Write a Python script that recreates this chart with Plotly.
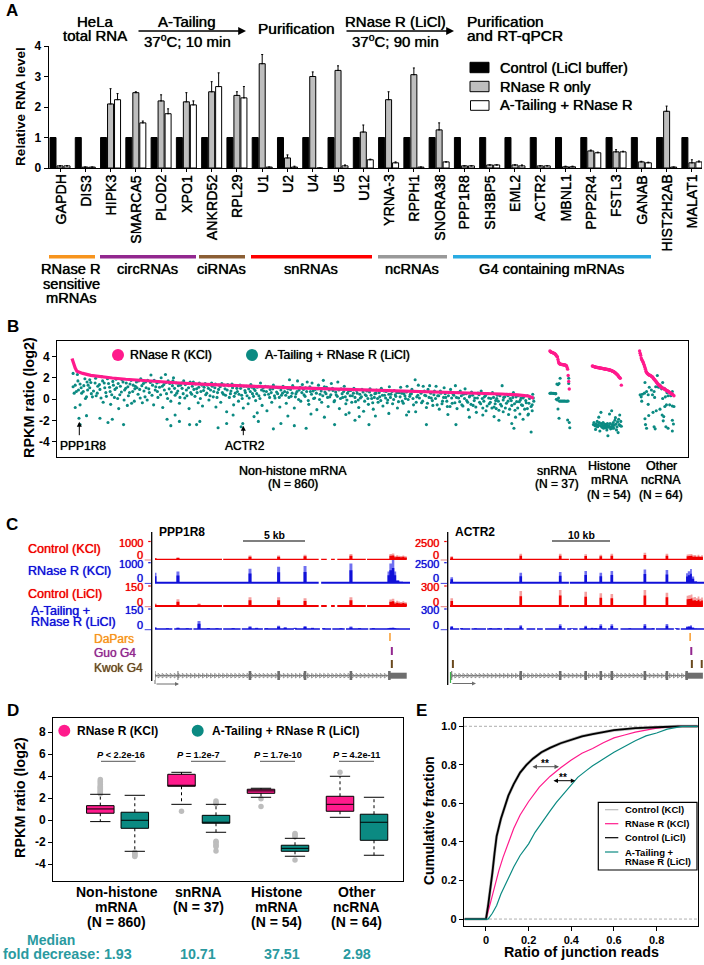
import plotly.graph_objects as go

W, H = 704, 965
FONT = "Liberation Sans"
PINK = "#FF1A8C"
TEAL = "#0B8A82"
TEALTXT = "#2A9AA0"
RED = "#F00000"
BLUE = "#1010D8"

# ---------- Panel A data ----------
genes = ["GAPDH","DIS3","HIPK3","SMARCA5","PLOD2","XPO1","ANKRD52","RPL29","U1","U2","U4","U5","U12","YRNA-3",
         "RPPH1","SNORA38","PPP1R8","SH3BP5","EML2","ACTR2","MBNL1","PPP2R4","FSTL3","GANAB","HIST2H2AB","MALAT1"]
control = [1]*26
rnase_only = [.07,.03,2.1,2.47,2.2,2.17,2.5,2.38,3.42,.33,3.0,3.2,1.18,2.24,3.06,1.25,.07,.1,.1,.07,.04,.56,.53,.2,1.86,.17]
rnase_err  = [0,0,.5,.03,.2,.3,.33,.12,.3,.1,.15,.15,.23,.26,.22,.23,0,0,0,0,.02,.03,.07,.02,.17,.1]
atail      = [.07,.03,2.24,1.48,1.78,2.07,2.67,2.3,.03,.03,0,.07,.27,.17,.03,.2,.07,.1,.07,.07,.04,.5,.53,.17,.03,.2]
atail_err  = [0,0,.2,.06,.16,.13,.45,.37,0,.03,0,.03,.02,.03,0,0,0,0,.03,0,.02,.02,.02,.02,0,.03]
group_names = ["circRNAs","ciRNAs","snRNAs","ncRNAs","G4 containing mRNAs"]

# ---------- Panel B data (rank along the axis, log2 ratio) ----------
nonhistone_pink_rank = [0,3,6,9,13,20,35,50,75,100,150,200,250,300,350,400,450,500,550,600,650,700,750,800,830,850,860]
nonhistone_pink_val  = [3.8,3.3,2.9,2.6,2.5,2.4,2.22,2.1,1.97,1.85,1.66,1.5,1.37,1.25,1.15,1.07,.99,.92,.85,.78,.7,.62,.55,.47,.38,.28,.08]
nonhistone_teal = [
(2,2.4),(10,2.3),(2,1.15),(6,1.3),(15,1.4),(24,1.9),(30,1.3),(33,1.8),(43,1.5),(55,2.1),(12,.85),(18,.55),(27,.2),(36,.5),(6,-.8),(15,-.55),(21,.7),(28,1.6),(38,.2),(8,.7),(33,1.05),(25,.05),
(45,.3),(48,1.2),(52,.9),(58,-.3),(60,1.5),(63,.6),(66,1.9),(70,1.1),(72,-.5),(74,.4),(77,1.3),(80,.9),(82,1.85),(85,.05),(87,-.9),(90,1.2),(92,.65),(95,1.6),(97,-.1),(100,1.0),(103,-.6),(105,.3),(108,1.4),(110,1.75),(113,.7),(116,-.2),
(118,1.2),(120,1.6),(123,.45),(126,.9),(128,1.9),(131,-.35),(133,1.45),(136,.2),(138,1.05),(141,1.75),(144,.6),(147,2.25),(150,1.3),(152,-.55),(155,.85),(158,1.5),(160,.15),(163,1.1),(166,2.0),(169,-.8),(171,1.35),(174,2.3),(176,.5),(179,1.7),
(181,.95),(184,-.2),(187,1.25),(189,2.0),(192,.35),(194,1.5),(197,.75),(200,-.4),(202,1.3),(205,1.0),(208,1.7),(210,.1),(213,.85),(216,1.45),(218,-.9),(221,.6),(224,1.2),(226,1.6),(229,.25),(232,.95),(235,-.35),(237,1.5),(240,.7),(243,-.65),(246,1.1),(249,.4),
(252,1.3),(255,-.1),(258,.85),(260,1.5),(263,.2),(266,1.05),(268,-.75),(271,.6),(274,1.3),(277,-.3),(279,1.45),(282,.45),(285,.95),(288,-1.2),(290,1.35),(293,.15),(296,.75),(298,1.4),(301,-.55),(304,.55),(307,1.0),(310,-.2),(313,1.3),(316,.35),
(319,-.85),(322,.8),(325,1.2),(328,-.45),(330,.1),(333,1.35),(336,.5),(339,.95),(342,-.15),(345,1.1),(348,.3),(351,1.5),(354,-.6),(357,.75),(360,1.2),(363,-1.1),(366,.45),(369,.9),(372,-.3),(375,1.3),(378,.1),(381,.65),(384,1.05),(387,-.75),(390,.35),(393,1.2),
(396,.7),(399,-.4),(402,.95),(405,1.8),(408,.25),(411,1.25),(414,-.85),(417,.5),(420,1.7),(423,.85),(426,-.2),(429,1.35),(432,.4),(435,1.05),(438,1.6),(441,-.5),(444,.7),(447,1.5),(450,.05),(453,.9),(456,-1.0),(459,1.3),(462,.45),(465,-.3),
(468,1.75),(471,.65),(474,1.1),(477,-.7),(480,.2),(483,1.45),(486,.8),(489,-.15),(492,.4),(495,1.6),(498,-.9),(501,.95),(504,.15),(507,1.2),(510,-.45),(513,.55),(516,-1.3),(519,.8),(522,.3),(525,1.0),(528,-.25),(531,.55),(534,-.8),
(537,.1),(540,.9),(543,-1.15),(546,.4),(549,.75),(552,-.5),(555,.95),(558,.05),(561,-.95),(564,.5),(567,.85),(570,-.3),(573,.2),(576,1.0),(579,-.65),(582,.35),(585,.7),(588,-.1),(591,1.15),(594,.45),(597,-.45),(600,.8),
(603,.25),(606,-.85),(609,.6),(612,1.1),(615,-.2),(618,.5),(621,.05),(624,1.2),(627,-1.2),(630,.45),(633,.9),(636,-.55),(639,1.8),(642,.2),(645,1.3),(648,.7),(651,-.35),(654,1.2),(657,.35),(660,-.8),(663,.9),(666,1.25),(669,.1),(672,-.6),
(675,.75),(678,1.2),(681,.3),(684,-.95),(687,.55),(690,-.2),(693,1.05),(696,.15),(699,-.7),(702,.6),(705,.9),(708,-.4),(711,.35),(714,1.25),(717,-.9),(720,.1),(723,.75),(726,-.55),(729,.45),(732,.95),(735,-.15),(738,-1.0),
(741,.3),(744,.65),(747,-.6),(750,.1),(753,-1.25),(756,.55),(759,-.3),(762,.75),(765,-.85),(768,.2),(771,-1.1),(774,.5),(777,-.45),(780,.05),(783,.6),(786,-.75),(789,-.15),(792,.35),(795,-1.05),(798,-.5),(801,1.25),(804,.15),(807,-.85),(810,.45),
(813,-1.45),(816,.05),(819,-.6),(822,.6),(825,-1.05),(828,-.25),(831,.3),(834,-1.4),(837,-.55),(840,.1),(843,-.95),(846,-.35),(849,-1.5),(852,.05),(855,-.7),(858,.45),(860,-.2),(857,-1.1),(848,.3),(835,-.1),(826,-1.7),(812,-.2),(803,-1.2),(790,-.9),
(13,-1.8),(15,-2.4),(27,-1.56),(52,-1.8),(67,-2.2),(75,-1.9),(96,-2.4),(177,-1.9),(184,-2.5),(192,-1.5),(200,-2.1),(219,-2.4),(232,-2.4),(238,-2.1),(272,-2.7),(288,-2.3),(318,-2.3),(315,-2.6),(339,-1.65),(347,-2.1),(375,-2.8),(389,-2.3),(414,-2.5),(436,-2.75),(489,-2.4),(527,-2.0),(535,-1.65),(553,-2.4),(623,-1.5),(660,-2.4),(715,-2.4),(786,-1.65),(823,-2.75),(855,-3.1),(819,-2.3),
(300,-1.5),(345,-1.3),(402,-1.6),(445,-1.4),(470,-1.7),(510,-1.45),(565,-1.6),(590,-1.35),(640,-1.2),(700,-1.45),(740,-1.7),(765,-1.5),(795,-2.0),(840,-1.9),(850,-1.4),
(4,.55),(11,1.7),(17,1.05),(22,1.25),(29,.85),(35,1.55),(40,.75),(44,1.95),(47,.55),(51,1.35),(54,.1),(57,1.7),(61,1.05),(64,.25),(68,1.45),(71,.7),(76,1.65),(79,.15),(83,1.05),(86,1.45),(89,.4),(93,1.8),(98,.85),(101,1.5),(104,1.15),(107,.6),(111,-.4),(114,1.3),(117,.95),(121,1.05),(124,1.7),(127,.1),(130,1.25),(134,.75),(137,1.6),(140,-.1),(143,.95),(146,1.55),(149,.35),(153,1.75),(156,1.15),(159,.7),(162,1.6),(165,.4),(168,1.2),(172,.85),(175,1.55),(178,.05),(182,1.45),(185,.65),(188,1.7),(191,1.0),(195,.55),(198,1.25),(201,.15),(204,1.5),(207,.5),(211,1.35),(214,.3),(217,1.05),(220,1.6),(223,.45),(227,.9),(230,1.4),(233,.6),(236,1.1),(239,.05),(242,1.3),(245,.8),(248,1.45),(251,.55),(254,1.0),(257,.3),(261,1.2),(264,.7),(267,1.4),(270,.15),(273,.9),(276,1.15),(280,.6),(283,1.3),(286,.35),(289,.85),(292,1.25),(295,.5),(299,1.05),(302,.25),(305,1.25),(308,.7),(311,.45),(314,1.0),(317,.05),(320,1.2),(323,.6),(326,.3),(329,.95),(332,.7),(335,1.1),(338,.25),(341,.8),(344,.5),(347,1.2),(350,.05),(353,.85),(356,1.05),(359,.4),(362,.7),(365,1.15),(368,.15),(371,.6),(374,.95),(377,.3),(380,1.1),(383,.5),(386,.15),(389,.85),(392,.55),(395,1.05),(398,.35),(401,.6),(404,.15),(407,.9),(410,.55),(413,1.05),(416,.2),(419,.7),(422,-.05),(425,1.1),(428,.6),(431,.9),(434,.25),(437,.7),(440,-.15),(443,1.15),(446,.45),(449,.75),(452,.1),(455,.55),(458,.95),(461,-.05),(464,.75),(467,.3),(470,1.15),(473,.5),(476,.15),(479,.85),(482,.4),(485,1.0),(488,-.25),(491,.65),(494,.25),(497,.85),(500,.05),(503,.5),(506,.7),(509,.2),(512,-.1),(515,.75),(518,.3),(521,-.3),(524,.55),(527,.15),(530,.8),(533,-.1),(536,.45),(539,.2),(542,.65),(545,-.2),(548,.3),(551,.05),(554,.65),(557,.35),(560,-.35),(563,.15),(566,.55),(569,.05),(572,.6),(575,-.15),(578,.35),(581,.75),(584,.1),(587,-.35),(590,.45),(593,.15),(596,.7),(599,-.05),(602,.4),(605,.6),(608,-.25),(611,.2),(614,.55),(617,-.4),(620,.3),(623,.65),(626,-.05),(629,.25),(632,.5),(635,.05),(638,.7),(641,-.3),(644,.35),(647,.1),(650,.55),(653,-.2),(656,.75),(659,.3),(662,-.4),(665,.15),(668,.55),(671,-.15),(674,.4),(677,.05),(680,-.55),(683,.3),(686,.75),(689,-.45),(692,.15),(695,.5),(698,-.2),(701,.3),(704,-.7),(707,.1),(710,.45),(713,-.35),(716,.15),(719,.6),(722,-.25),(725,.3),(728,-.65),(731,.05),(734,.5),(737,-.3),(740,.2),(743,-.5),(746,.35),(749,-.15),(752,-.75),(755,.1),(758,.4),(761,-.45),(764,.05),(767,-.2),(770,.3),(773,-.65),(776,.1),(779,-.3),(782,-.85),(785,.15),(788,-.45),(791,.05),(794,-.2),(797,.3),(800,-.65),(803,-.1),(806,.2),(809,-.4),(812,.3),(815,-.95),(818,-.15),(821,.15),(824,-.45),(827,.2),(830,-.85),(833,-.25),(836,.1),(839,-.6),(842,.25),(845,-.15),(848,-.9),(851,-.4),(854,.15),(857,-.55),(859,.1)]
snrna_pink_rank = list(range(890, 927))
snrna_pink_val = [4.5,4.45,4.4,4.38,4.37,4.35,4.33,4.3,4.28,4.25,4.2,4.15,4.05,4.0,3.95,3.7,3.5,3.35,3.3,3.28,3.26,3.25,3.24,3.23,3.22,3.21,3.2,3.2,3.19,3.18,3.15,3.1,2.95,2.8,2.2,1.65,.94]
snrna_teal = [(890,.53),(892,.55),(894,.54),(896,.53),(898,.52),(900,.5),(902,-.03),(904,-.1),(903,1.4),(905,1.35),(907,1.45),(909,1.94),(905,-.94),(907,-1.8),(908,-.2),(910,-.19),(912,-.2),(914,-.19),(916,-.2),(918,-.19),(920,-.21),(922,-.2),(924,-.19),(925,1.94),(925,1.45),(923,-1.97),(926,-2.2),(927,-2.69),(906,.1),(901,.5),(899,.52)]
histone_pink_rank = [969,970,971,972,973,974,975,976,977,978,979,980,981,982,983,984,985,986,987,988,989,990,991,992,993,994,995,996,997,998,999,1000,1001,1002,1003,1004,1005,1006,1007,1008,1009,1010,1011,1012,1013,1014,1015,1016,1017,1018,1019,1020,1021,1023]
histone_pink_val = [3.1,3.08,3.06,3.04,3.02,3.0,2.99,2.98,2.97,2.96,2.95,2.94,2.93,2.92,2.91,2.9,2.89,2.88,2.87,2.86,2.85,2.84,2.83,2.82,2.81,2.8,2.79,2.78,2.77,2.76,2.75,2.74,2.72,2.7,2.69,2.67,2.65,2.63,2.6,2.58,2.55,2.52,2.48,2.44,2.4,2.35,2.3,2.25,2.2,2.12,2.05,2.0,1.95,1.3]
histone_teal = [(971,-2.4),(972,-2.2),(974,-2.5),(975,-2.85),(976,-2.35),(978,-2.1),(979,-2.6),(980,-2.4),(981,-1.7),(982,-2.2),(983,-3.0),(984,-2.5),(985,-1.25),(986,-2.3),(987,-2.65),(988,-2.45),(989,-2.2),(990,-2.75),(991,-2.55),(992,-2.35),(993,-2.6),(994,-2.4),(995,-2.7),(996,-2.5),(997,-2.3),(998,-3.45),(999,-2.65),(1000,-2.5),(1001,-1.4),(1002,-2.3),(1003,-2.8),(1004,-2.6),(1005,-1.1),(1006,-2.4),(1007,-2.55),(1008,-2.2),(1009,-2.75),(1010,-2.45),(1011,-2.0),(1012,-1.75),(1013,-2.35),(1014,-2.9),(1015,-2.6),(1016,-2.15),(1017,-3.15),(1018,-1.9),(1019,-2.4),(1020,-1.5),(1021,-2.5),(1022,-2.1),(1023,-2.55),(977,-2.55),(996,-2.9),(1006,-2.75)]
ncrna_pink_rank = [1057,1058,1059,1060,1061,1062,1063,1064,1065,1066,1067,1068,1069,1070,1071,1072,1073,1074,1075,1076,1077,1078,1079,1080,1081,1082,1083,1084,1085,1086,1087,1088,1089,1090,1091,1092,1093,1094,1095,1096,1097,1098,1099,1100,1101,1102,1103,1104,1105,1106,1107,1108,1109,1110,1111,1112,1113,1114,1115,1116,1117,1118,1119,1121]
ncrna_pink_val = [4.5,4.3,4.1,3.85,3.7,3.6,3.5,3.4,3.25,3.1,2.95,2.8,2.6,2.5,2.42,2.36,2.32,2.28,2.25,2.22,2.2,2.17,2.14,2.1,2.06,2.0,1.93,1.86,1.8,1.74,1.68,1.62,1.55,1.48,1.4,1.33,1.3,1.27,1.22,1.18,1.14,1.1,1.06,1.02,1.0,.97,.94,.91,.87,.84,.81,.77,.75,.72,.68,.65,.62,.58,.54,.5,.47,.43,.4,.3]
ncrna_teal = [(1058,.4),(1062,.45),(1066,.55),(1060,.2),(1070,.7),(1061,-.2),(1073,-.5),(1067,1.55),(1075,1.1),(1079,.85),(1073,.4),(1081,.4),(1085,.15),(1084,.7),(1087,1.15),(1091,1.15),(1095,1.3),(1100,1.55),(1090,2.2),(1100,.05),(1105,.2),(1110,.3),(1115,.3),(1118,.7),(1104,-.7),(1107,-.55),(1113,-.55),(1118,-.65),(1121,-.7),(1095,-.95),(1088,-1.1),(1082,-1.25),(1074,-1.55),(1067,-1.85),(1099,-1.5),(1102,-1.65),(1101,-2.05),(1118,-2.0),(1120,-2.35),(1110,-2.75),(1106,-2.6),(1118,-3.0),(1068,-2.4),(1070,-2.75),(1084,-2.6),(1086,-2.8),(1093,1.1),(1098,.95),(1103,1.0),(1108,.6)]

# ---------- Panel C data ----------
ppp_exons_kb = [0.0,1.85,7.66,9.97,12.1,15.8,18.9]
ppp_utr_kb = [18.9,20.3]
ppp_t1 = [80,120,220,220,260,300,330]
ppp_t2 = [500,560,700,800,830,960,1130]
ppp_t3 = [18,50,65,65,58,65,55]
ppp_t4 = [14,12,20,25,22,18,12]
ppp_extra_t3 = [(3.55,18)]
ppp_extra_t4 = [(1.0,6),(2.6,6),(3.55,60),(4.3,8),(5.0,6),(6.3,7),(8.2,10),(9.0,7),(10.5,13),(11.3,9),(12.7,9),(13.6,6),(15.0,6),(16.5,7),(17.6,7)]
ppp_gaps = [(5.4,5.5),(13.2,13.4),(13.85,14.2),(14.5,14.7),(17.0,17.1)]
ppp_gaps_t4 = [(1.4,1.55),(3.0,3.1),(5.4,5.5),(6.9,7.0),(8.7,8.8),(11.2,11.3),(13.3,13.5),(14.2,14.3),(15.3,15.4),(17.2,17.3)]
actr_exons_kb = [.3,12.2,19,23.4,26,27.9,33.6,37.4,40.8]
actr_utr_kb = [40.8,43.6]
actr_t1 = [430,790,790,700,650,790,920,790,790]
actr_t2 = [670,1250,1330,1460,1250,1460,1660,1580,1700]
actr_t3 = [115,225,240,215,190,180,240,200,180]
actr_t4 = [45,55,70,50,70,70,75,75,55]
actr_extra_t4 = [(2.0,15),(4.4,12),(7.0,15),(8.4,12),(10.0,10),(21.0,10),(24.5,20),(25.1,15),(31.0,12),(35.0,12),(39.0,10)]
actr_gaps = [(20.5,20.65)]
actr_gaps_t4 = [(1.6,1.8),(3.5,3.7),(6.2,6.4),(9.0,9.3),(12.7,13.2),(14.7,15.0),(16.0,16.4),(19.9,20.2),(20.9,21.2),(22.0,22.3),(27.0,27.2),(29.0,29.4),(35.3,35.5),(38.6,39.0),(39.6,39.8)]
ppp_marks = {"DaPars":[18.95],"Guo":[19.1],"Kwok":[19.1]}
actr_marks = {"DaPars":[41.4],"Guo":[41.6],"Kwok":[.5,41.7,43.4]}
ppp_plateau = ([18.9,19.1,19.3,19.45,19.6,19.75,19.95,20.1,20.3,20.31], [.9,1,.55,.7,.6,.55,.65,.5,.4,0])
ppp_decay = ([18.75,18.9,19.1,19.3,19.45,19.7,20.0,20.31], [.5,.85,1,.5,.12,.05,.03,0])
actr_plateau = ([40.8,41.1,41.5,41.8,42.1,42.4,42.7,43.0,43.3,43.6,43.61], [.85,.9,.95,.7,.75,.65,.8,.6,.7,.4,0])
actr_decay = ([40.7,41.0,41.4,41.7,42.1,42.6,43.6,43.61], [.7,.85,1,.45,.1,.04,.03,0])

# ---------- Panel D data ----------
box_q1 = [.64,-.73,3.09,-.27,2.45,-2.82,.82,-1.82]
box_med = [1.03,0,3.15,-.2,2.67,-2.55,1.45,-.18]
box_q3 = [1.33,.73,4.18,.45,2.82,-2.27,2.18,.55]
box_lo = [-.12,-2.82,1.45,-1.09,2.09,-3.27,.27,-3.18]
box_hi = [2.36,2.27,4.36,1.45,2.91,-1.64,4.0,2.09]
box_out = [[2.4,2.5,2.6,2.7,2.8,2.9,3.0,3.1,3.25,3.4,3.55,3.7],[-2.9,-3.0,-3.1,-3.2,-3.3],[.82],[1.5,1.6,1.75,-1.9,-2.0,-2.15,-2.3,-2.4,-2.8],[1.25,1.95],[-1.2,-1.3,-1.4,-1.5,-3.6],[4.36],[]]
pvals = ["<i>P</i> &lt; 2.2e-16","<i>P</i> = 1.2e-7","<i>P</i> = 1.7e-10","<i>P</i> = 4.2e-11"]
fold = ["fold decrease: 1.93","10.71","37.51","2.98"]

# ---------- Panel E data ----------
ctrl_x = [-.1,0,.01,.02,.03,.04,.05,.07,.09,.105,.13,.16,.19,.22,.26,.3,.35,.4,.45,.5,.55,.6,.65,.7,.8,.9,1]
ctrl_y = [0,0,.07,.15,.24,.34,.43,.52,.59,.64,.70,.76,.80,.832,.865,.888,.912,.932,.948,.96,.97,.98,.985,.99,.995,1,1]
pink_x = [-.1,0,.02,.04,.06,.08,.1,.13,.16,.2,.25,.3,.35,.4,.45,.5,.55,.6,.65,.7,.75,.8,.85,.9,1]
pink_y = [0,0,.08,.17,.25,.32,.38,.47,.54,.61,.685,.74,.785,.825,.86,.885,.915,.94,.955,.97,.98,.99,.995,1,1]
teal_x = [-.1,.01,.03,.05,.07,.1,.13,.16,.2,.23,.26,.3,.33,.36,.4,.43,.47,.5,.55,.6,.65,.7,.75,.8,.85,.92,1]
teal_y = [0,0,.03,.07,.13,.2,.27,.33,.39,.45,.5,.56,.605,.645,.70,.735,.77,.795,.83,.865,.895,.925,.95,.965,.985,1,1]

# ---------- helpers ----------
fig = go.Figure()
layout = {}
annos, shapes = [], []
axn = [0]

def new_axes(x0, x1, y0, y1, xr, yr, xo=None, yo=None):
    """Axes box given in window pixels (y0 top, y1 bottom)."""
    axn[0] += 1
    n = axn[0]
    s = "" if n == 1 else str(n)
    xa = dict(domain=[x0/W, x1/W], range=xr, anchor=f"y{s}", visible=False, fixedrange=True, showgrid=False, zeroline=False)
    ya = dict(domain=[1-y1/H, 1-y0/H], range=yr, anchor=f"x{s}", visible=False, fixedrange=True, showgrid=False, zeroline=False)
    if xo: xa.update(xo)
    if yo: ya.update(yo)
    layout[f"xaxis{s}"] = xa
    layout[f"yaxis{s}"] = ya
    return f"x{s}", f"y{s}"

def T(x, y, s, size=12, color="black", bold=False, anchor="center", angle=0):
    f = dict(family=FONT, size=size, color=color)
    if not bold:
        f["shadow"] = f"0 0 .7px {color}"
    annos.append(dict(xref="paper", yref="paper", x=x/W, y=1-y/H, text=f"<b>{s}</b>" if bold else s, showarrow=False,
                      xanchor=anchor, yanchor="middle", textangle=angle, borderpad=0, font=f))

def L(x0, y0, x1, y1, color="black", width=1, dash=None):
    shapes.append(dict(type="line", xref="paper", yref="paper", x0=x0/W, x1=x1/W, y0=1-y0/H, y1=1-y1/H,
                       line=dict(color=color, width=width, dash=dash)))

def R(x0, y0, x1, y1, fill, line="black", width=1):
    shapes.append(dict(type="rect", xref="paper", yref="paper", x0=x0/W, x1=x1/W, y0=1-y0/H, y1=1-y1/H,
                       fillcolor=fill, line=dict(color=line, width=width)))

def C(x, y, r, fill):
    shapes.append(dict(type="circle", xref="paper", yref="paper", x0=(x-r)/W, x1=(x+r)/W, y0=1-(y-r)/H, y1=1-(y+r)/H,
                       fillcolor=fill, line=dict(width=0)))

def ARROW(x0, y0, x1, y1, color="black", width=1, size=1, side="end"):
    annos.append(dict(xref="paper", yref="paper", axref="pixel", ayref="pixel", x=x1/W, y=1-y1/H, ax=x0-x1, ay=y0-y1,
                      text="", showarrow=True, arrowhead=2, arrowsize=size, arrowwidth=width, arrowcolor=color, arrowside=side,
                      standoff=0, startstandoff=0))

tickfont = dict(family=FONT, size=12, color="black")
b = lambda vals: [f"<b>{v}</b>" for v in vals]

# ---------- Panel A ----------
T(12, 11, "A", 17, bold=True)
xa, ya = new_axes(48.7, 702, 46, 168, [-.447, 25.4], [0, 4],
    dict(visible=True, type="category", categoryorder="array", categoryarray=genes, tickmode="array", tickvals=genes, showticklabels=False,
         showline=True, linecolor="black", linewidth=1.2, ticks="outside", ticklen=3, tickcolor="black"),
    dict(visible=True, tickvals=[0,1,2,3,4], ticktext=b([0,1,2,3,4]), showline=True, linecolor="black", linewidth=1.2, ticks="outside", ticklen=4, tickcolor="black",
         tickfont=tickfont))
for g in genes:
    annos.append(dict(xref=xa, yref="paper", x=g, y=1-173.5/H, text=g, showarrow=False, textangle=-90, xanchor="center", yanchor="top", borderpad=0,
                      font=dict(family=FONT, size=14.2, color="black", shadow="0 0 .7px black")))
eb = lambda v: dict(type="data", symmetric=False, array=v, arrayminus=[0]*len(v), thickness=1, width=1, color="black")
fig.add_bar(x=genes, y=control, marker=dict(color="black", line=dict(color="black", width=1)), xaxis=xa, yaxis=ya, showlegend=False)
fig.add_bar(x=genes, y=rnase_only, error_y=eb(rnase_err), marker=dict(color="#BEBEBE", line=dict(color="black", width=1)), xaxis=xa, yaxis=ya, showlegend=False)
fig.add_bar(x=genes, y=atail, error_y=eb(atail_err), marker=dict(color="white", line=dict(color="black", width=1)), xaxis=xa, yaxis=ya, showlegend=False)
layout.update(barmode="group", bargap=.17, bargroupgap=.14)
T(20, 107, "Relative RNA level", 13.6, angle=-90, bold=True)
T(95, 21, "HeLa", 15); T(95, 35, "total RNA", 15)
T(187, 21, "A-Tailing", 15); T(187, 41, "37<sup>o</sup>C; 10 min", 15)
ARROW(137, 31, 246, 31, size=1.2, width=1.3)
T(296, 28, "Purification", 15.5)
ARROW(345, 31, 454, 31, size=1.2, width=1.3)
T(395, 21, "RNase R (LiCl)", 15); T(395.5, 41, "37<sup>o</sup>C; 90 min", 15)
T(466, 21, "Purification", 15.5, anchor="left"); T(466, 35, "and RT-qPCR", 15.5, anchor="left")
R(470, 62.3, 489, 72.7, "black"); R(470, 81.3, 489, 91.7, "#BEBEBE"); R(470.5, 100.7, 489, 110.3, "white")
T(499.4, 67.7, "Control (LiCl buffer)", 14.7, anchor="left"); T(499.4, 86.5, "RNase R only", 14.7, anchor="left"); T(499.4, 105.5, "A-Tailing + RNase R", 14.7, anchor="left")
for (a, bb, c) in [(49,95,"#F7941D"),(100,196,"#92278F"),(199,245,"#8B5E34"),(251,372,"#FF0000"),(378,447,"#999999"),(453,651,"#29ABE2")]:
    R(a, 255, bb, 258.5, c, line=c, width=0)
T(71, 269, "RNase R", 14.7); T(71, 284, "sensitive", 14.7); T(71, 298, "mRNAs", 14.7)
for cx, name in zip([147,221,311,412,551], group_names):
    T(cx, 269, name, 14.7)

# ---------- Panel B ----------
T(13, 327, "B", 17, bold=True)
xb, yb = new_axes(57.3, 688.3, 341, 457, [-27.4, 1147.7], [-5.44, 5.44],
    dict(visible=True, showline=True, mirror=True, linecolor="black", linewidth=1.3, showticklabels=False, ticks=""),
    dict(visible=True, tickvals=[-4,-2,0,2,4], ticktext=b([-4,-2,0,2,4]), showline=True, mirror=True,
         linecolor="black", linewidth=1.3, ticks="outside", ticklen=4, tickcolor="black", tickfont=tickfont))
def dots(pairs, color=TEAL, size=3.1):
    xs, ys = zip(*pairs)
    fig.add_scatter(x=list(xs), y=list(ys), mode="markers", marker=dict(color=color, size=size, line=dict(width=0)), xaxis=xb, yaxis=yb, showlegend=False)
dots(nonhistone_teal); dots(snrna_teal); dots(histone_teal); dots(ncrna_teal)
fig.add_scatter(x=nonhistone_pink_rank, y=nonhistone_pink_val, mode="lines", line=dict(color=PINK, width=3.2), xaxis=xb, yaxis=yb, showlegend=False)
for rx, ry in [(snrna_pink_rank, snrna_pink_val), (histone_pink_rank, histone_pink_val), (ncrna_pink_rank, ncrna_pink_val)]:
    dots(list(zip(rx, ry)), PINK, 3.4)
T(29, 398, "RPKM ratio (log2)", 14.4, angle=-90, bold=True)
C(118, 355, 6, PINK); T(129, 355, "RNase R (KCl)", 12.4, anchor="left")
C(252, 355, 6, TEAL); T(264, 355, "A-Tailing + RNase R (LiCl)", 12.4, anchor="left")
ARROW(79.3, 436.7, 79.3, 421.7, size=1, width=1); T(83, 446, "PPP1R8", 12)
ARROW(243.3, 436.7, 243.3, 425.7, size=1, width=1); T(244.7, 446, "ACTR2", 12)
T(293, 470.7, "Non-histone mRNA", 12.5); T(293, 484, "(N = 860)", 12)
T(557, 470.7, "snRNA", 12.5); T(557, 484, "(N = 37)", 12)
T(609.3, 466, "Histone", 12.5); T(609.3, 480, "mRNA", 12.5); T(609.3, 495, "(N = 54)", 12)
T(661.4, 466, "Other", 12.5); T(661.4, 480, "ncRNA", 12.5); T(661.4, 495, "(N = 64)", 12)

# ---------- Panel C ----------
T(12, 524, "C", 17, bold=True)
TRACKS = [(559.3, 541.5), (582.7, 562.7), (606, 586), (629, 609)]
COLS = [(RED, "#F4A0A0", 1.3), (BLUE, "#7070F0", 2), (RED, "#F4A0A0", 2), (BLUE, "#7070F0", 1.5)]

def draw_track(x_left, x_right, px_per_kb, tick_val, exons, heights, utr, gaps, extras, idx, peak_w, noisy):
    base, top = TRACKS[idx]
    col, light, lw = COLS[idx]
    span = base - top
    xt, yt = new_axes(x_left, x_right, base-span*1.35, base+2, [0, (x_right-x_left)/px_per_kb], [-2/span*tick_val, tick_val*1.35])
    peaks = list(zip(exons[:-1], heights[:-1])) + extras
    ux = list(noisy[0])
    uy = [n*heights[-1] for n in noisy[1]]
    for frac, colr in [(1, light), (.65, col)]:
        px, py = [], []
        for e, h in sorted(peaks):
            hw = peak_w/2
            px += [e-hw, e-hw, e+hw, e+hw, None]
            py += [0, h*frac, h*frac, 0, None]
        fig.add_scatter(x=px, y=py, mode="lines", fill="toself", fillcolor=colr, line=dict(width=0), xaxis=xt, yaxis=yt, showlegend=False, hoverinfo="skip")
        fig.add_scatter(x=ux, y=[v*frac for v in uy], mode="lines", fill="tozeroy", fillcolor=colr, line=dict(width=0, shape="hv"), xaxis=xt, yaxis=yt, showlegend=False, hoverinfo="skip")
    bx, by = [0], [0]
    for g0, g1 in gaps:
        bx += [g0, None, g1]; by += [0, None, 0]
    bx.append(utr[1] + (0.6 if idx % 2 else 0)); by.append(0)
    fig.add_scatter(x=bx, y=by, mode="lines", line=dict(color=col, width=lw), xaxis=xt, yaxis=yt, showlegend=False, hoverinfo="skip")

for i, (ph, top) in enumerate(zip([ppp_t1, ppp_t2, ppp_t3, ppp_t4], [1000, 1000, 150, 150])):
    ex = {2: ppp_extra_t3, 3: ppp_extra_t4}.get(i, [])
    gp = {1: ppp_gaps[1:2], 3: ppp_gaps_t4}.get(i, ppp_gaps)
    draw_track(155, 410, 12.4, top, ppp_exons_kb, ph, ppp_utr_kb, gp, ex, i, .24, ppp_decay if i % 2 else ppp_plateau)
for i, (ph, top) in enumerate(zip([actr_t1, actr_t2, actr_t3, actr_t4], [2500, 2500, 300, 300])):
    draw_track(450, 704, 5.8, top, actr_exons_kb, ph, actr_utr_kb, actr_gaps_t4 if i == 3 else actr_gaps, actr_extra_t4 if i == 3 else [], i, .45, actr_decay if i % 2 else actr_plateau)

def gene_panel(x_left, x_right, px_per_kb, exons, utr, marks, thin):
    xg, yg = new_axes(x_left, x_right, 632, 690, [0, (x_right-x_left)/px_per_kb], [58, 0])
    lane = {"DaPars": (1, 9), "Guo": (15, 23), "Kwok": (28, 36)}
    clr = {"DaPars": "#F7941D", "Guo": "#92278F", "Kwok": "#6B4A1E"}
    wid = {"DaPars": 1.4, "Guo": 2, "Kwok": 2}
    for k, v in marks.items():
        xs, ys = [], []
        for m in v:
            xs += [m, m, None]; ys += [lane[k][0], lane[k][1], None]
        fig.add_scatter(x=xs, y=ys, mode="lines", line=dict(color=clr[k], width=wid[k]), xaxis=xg, yaxis=yg, showlegend=False, hoverinfo="skip")
    g = "#6E6E6E"
    end = utr[0]
    nt = int((end-exons[0]) * px_per_kb / 4)
    fig.add_scatter(x=[exons[0] + (end-exons[0])*j/nt for j in range(nt+1)], y=[43.7]*(nt+1), mode="lines+markers",
                    marker=dict(symbol="triangle-right-open", size=4, color=g, line=dict(width=.7, color=g)), line=dict(color=g, width=1),
                    xaxis=xg, yaxis=yg, showlegend=False, hoverinfo="skip")
    for j, e in enumerate(exons):
        fig.add_scatter(x=[e, e], y=[39, 48], mode="lines", line=dict(color=g, width=1 if j in thin else 2.6), xaxis=xg, yaxis=yg, showlegend=False, hoverinfo="skip")
    fig.add_scatter(x=utr, y=[43.7, 43.7], mode="lines", line=dict(color=g, width=6), xaxis=xg, yaxis=yg, showlegend=False, hoverinfo="skip")

gene_panel(155, 410, 12.4, ppp_exons_kb, ppp_utr_kb, ppp_marks, [0, 1])
gene_panel(450, 704, 5.8, actr_exons_kb, actr_utr_kb, actr_marks, [0])
L(151.7, 532, 151.7, 681, width=1.3); L(447.7, 532, 447.7, 685, width=1.3)
L(450.5, 672, 450.5, 683, color="#3DB54A", width=1.2)
ARROW(155, 684, 179, 684, color="#6E6E6E", size=.8, width=1); L(155, 680, 155, 684, color="#6E6E6E")
ARROW(451, 683.5, 476, 683.5, color="#6E6E6E", size=.8, width=1)
T(158, 532, "PPP1R8", 12, bold=True, anchor="left"); T(454, 532, "ACTR2", 12, bold=True, anchor="left")
L(243, 541, 305, 541, width=1.2); T(274, 535, "5 kb", 10.5, bold=True)
L(552, 541, 610, 541, width=1.2); T(581, 535, "10 kb", 10.5, bold=True)
for ax_x, zero_ticks in [(151.7, ["1000","1000","150","150"]), (447.7, ["2500","2500","300","300"])]:
    for i, lab in enumerate(zero_ticks):
        base, top = TRACKS[i]
        col = RED if i % 2 == 0 else BLUE
        T(ax_x-8, top+1, lab, 11, col, anchor="right")
        T(ax_x-8, base-4.3, "0", 11, col, anchor="right")
        L(ax_x-3.5, top, ax_x-1, top, color=col, width=1.2)
        L(ax_x-7, base+.7, ax_x-.5, base+.7, color=col if i % 2 else "#E06060", width=.8)
T(27, 549, "Control (KCl)", 12.6, RED, anchor="left")
T(27, 571, "RNase R (KCl)", 12.6, BLUE, anchor="left")
T(27, 594, "Control (LiCl)", 12.6, RED, anchor="left")
T(30, 610.5, "A-Tailing +", 12.6, BLUE, anchor="left")
T(30, 622, "RNase R (LiCl)", 12.6, BLUE, anchor="left")
T(93, 639, "DaPars", 12, "#F7941D", anchor="left")
T(93, 653, "Guo G4", 12, "#92278F", anchor="left")
T(93, 667.5, "Kwok G4", 12, "#6B4A1E", anchor="left")

# ---------- Panel D ----------
T(13, 710, "D", 17, bold=True)
box_pos = [100.3,134.8,181.5,216,261,295,340,374]
xd, yd = new_axes(53.3, 403.3, 718.3, 881, [53.3, 403.3], [-5.52, 9.27],
    dict(visible=True, showline=True, mirror=True, linecolor="black", linewidth=1.3, showticklabels=False, ticks=""),
    dict(visible=True, tickvals=[-4,-2,0,2,4,6,8], ticktext=b([-4,-2,0,2,4,6,8]), showline=True, mirror=True, linecolor="black", linewidth=1.3,
         ticks="outside", ticklen=4, tickcolor="black", tickfont=tickfont))
for i in range(8):
    colr = PINK if i % 2 == 0 else TEAL
    fig.add_box(x=[box_pos[i]], q1=[box_q1[i]], median=[box_med[i]], q3=[box_q3[i]], lowerfence=[box_q1[i]], upperfence=[box_q3[i]],
                width=27.5, fillcolor=colr, line=dict(color="black", width=1), whiskerwidth=0, boxpoints=False,
                xaxis=xd, yaxis=yd, showlegend=False)
    if box_out[i]:
        fig.add_scatter(x=[box_pos[i]]*len(box_out[i]), y=box_out[i], mode="markers", marker=dict(color="#BDBDBD", size=5.5, line=dict(width=0)), xaxis=xd, yaxis=yd, showlegend=False)
    fig.add_scatter(x=[box_pos[i]]*2+[None]+[box_pos[i]]*2, y=[box_q3[i], box_hi[i], None, box_q1[i], box_lo[i]], mode="lines",
                    line=dict(color="black", width=1, dash="3px,3px"), xaxis=xd, yaxis=yd, showlegend=False)
    fig.add_scatter(x=[box_pos[i]]*2, y=[box_hi[i], box_lo[i]], mode="markers", marker=dict(symbol="line-ew", size=14.5, line=dict(color="black", width=1)), xaxis=xd, yaxis=yd, showlegend=False)
T(20, 798, "RPKM ratio (log2)", 14.4, angle=-90, bold=True)
C(64.3, 730.7, 6, PINK); T(76, 730.7, "RNase R (KCl)", 12, anchor="left", bold=True)
C(197.7, 730.7, 6, TEAL); T(211, 730.7, "A-Tailing + RNase R (LiCl)", 12, anchor="left", bold=True)
for cx, (a, bb), p in zip([120.7,198,277.7,356.7], [(101,135.7),(191,225.7),(260,295),(339,374)], pvals):
    T(cx, 754.7, p, 9.2, bold=True)
    L(a, 761.3, bb, 761.3, color="#777777", width=1.2)
for cx, lines in zip([116.7,198,276.7,356.7], [["Non-histone","mRNA","(N = 860)"],["snRNA","(N = 37)"],["Histone","mRNA","(N = 54)"],["Other","ncRNA","(N = 64)"]]):
    for yy, s in zip([892,907,921.7], lines):
        T(cx, yy, s, 14, bold=True)
T(50.7, 940.3, "Median", 14, TEALTXT, bold=True)
T(1.7, 954.3, fold[0], 14.3, TEALTXT, bold=True, anchor="left")
for cx, s in zip([197.7,281.7,356.7], fold[1:]):
    T(cx, 954.3, s, 14.3, TEALTXT, bold=True)

# ---------- Panel E ----------
T(421, 710, "E", 17, bold=True)
xe, ye = new_axes(464, 697.7, 717.7, 926, [-.103, .9925], [-.036, 1.0446],
    dict(visible=True, tickvals=[0,.2,.4,.6,.8], ticktext=b(["0","0.2","0.4","0.6","0.8"]), showline=True, mirror=True, linecolor="black", linewidth=1.3,
         ticks="outside", ticklen=4, tickcolor="black", tickfont=dict(family=FONT, size=11, color="black")),
    dict(visible=True, tickvals=[0,.2,.4,.6,.8,1], ticktext=b(["0","0.2","0.4","0.6","0.8","1.0"]), showline=True, mirror=True, linecolor="black", linewidth=1.3,
         ticks="outside", ticklen=4, tickcolor="black", tickfont=dict(family=FONT, size=11, color="black")))
for yv in [0, 1]:
    fig.add_scatter(x=[-.103, .9925], y=[yv, yv], mode="lines", line=dict(color="#999999", width=.8, dash="3px,2px"), xaxis=xe, yaxis=ye, showlegend=False)
fig.add_scatter(x=ctrl_x, y=ctrl_y, mode="lines", line=dict(color="#BBBBBB", width=3), xaxis=xe, yaxis=ye, showlegend=False)
fig.add_scatter(x=pink_x, y=pink_y, mode="lines", line=dict(color=PINK, width=1.2), xaxis=xe, yaxis=ye, showlegend=False)
fig.add_scatter(x=ctrl_x, y=ctrl_y, mode="lines", line=dict(color="black", width=1.8), xaxis=xe, yaxis=ye, showlegend=False)
fig.add_scatter(x=teal_x, y=teal_y, mode="lines", line=dict(color=TEAL, width=1.2), xaxis=xe, yaxis=ye, showlegend=False)
ARROW(531, 766.7, 559, 766.7, color="#555555", size=.9, width=1, side="end+start"); T(544.7, 763, "**", 10, bold=True)
ARROW(552, 780.7, 575.3, 780.7, size=.9, width=1, side="end+start"); T(563, 777, "**", 10, bold=True)
T(429.3, 820.7, "Cumulative fraction", 13.8, angle=-90, bold=True)
T(581, 952, "Ratio of junction reads", 14.3, bold=True)
R(598.3, 802.3, 697, 870, "white", width=1.2)
for yy, c in [(809.7,"#BBBBBB"),(823.7,PINK),(837.7,"black"),(852,TEAL)]:
    L(605, yy, 618.3, yy, color=c, width=1.2)
T(624, 809.7, "Control (KCl)", 9.5, bold=True, anchor="left")
T(624, 823.7, "RNase R (KCl)", 9.5, bold=True, anchor="left")
T(624, 837.7, "Control (LiCl)", 9.5, bold=True, anchor="left")
T(624, 852, "A-Tailing +", 9.5, bold=True, anchor="left")
T(624, 861.7, "RNase R (LiCl)", 9.5, bold=True, anchor="left")

fig.update_layout(width=W, height=H, margin=dict(l=0, r=0, t=0, b=0, autoexpand=False), paper_bgcolor="white", plot_bgcolor="rgba(0,0,0,0)",
                  font=dict(family=FONT), annotations=annos, shapes=shapes, showlegend=False, **layout)
fig.write_html("out.html", config={"displayModeBar": False}, post_script="document.body.style.margin='0';document.documentElement.style.overflow='hidden';")
